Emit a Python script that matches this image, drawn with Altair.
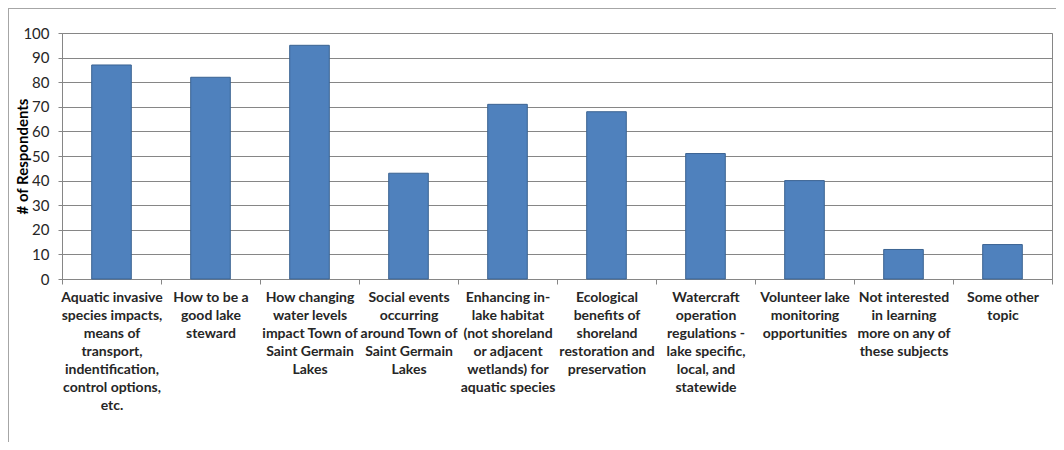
import altair as alt
import pandas as pd

topics = [
    "Aquatic invasive|species impacts,|means of|transport,|indentification,|control options,|etc.",
    "How to be a|good lake|steward",
    "How changing|water levels|impact Town of|Saint Germain|Lakes",
    "Social events|occurring|around Town of|Saint Germain|Lakes",
    "Enhancing in-|lake habitat|(not shoreland|or adjacent|wetlands) for|aquatic species",
    "Ecological|benefits of|shoreland|restoration and|preservation",
    "Watercraft|operation|regulations -|lake specific,|local, and|statewide",
    "Volunteer lake|monitoring|opportunities",
    "Not interested|in learning|more on any of|these subjects",
    "Some other|topic",
]
respondents = [87, 82, 95, 43, 71, 68, 51, 40, 12, 14]
y_ticks = [0, 10, 20, 30, 40, 50, 60, 70, 80, 90, 100]

df = pd.DataFrame({"topic": topics, "n": respondents})

GRAY = "#868686"
FONT = "Lato"

x = alt.X(
    "topic:N",
    sort=topics,
    title=None,
    scale=alt.Scale(paddingInner=0, paddingOuter=0),
    axis=alt.Axis(
        labelExpr="isString(datum.value) ? split(datum.value, '|') : ''",
        labelAngle=0,
        labelAlign="center",
        labelBaseline="top",
        labelFont=FONT,
        labelFontWeight="bold",
        labelFontSize=14,
        labelLineHeight=18,
        labelColor="#262626",
        labelPadding=6,
        labelOverlap=False,
        labelLimit=200,
        tickBand="extent",
        tickSize=5,
        tickColor=GRAY,
        domainColor=GRAY,
        grid=False,
    ),
)

y = alt.Y(
    "n:Q",
    scale=alt.Scale(domain=[0, 100], nice=False),
    axis=alt.Axis(
        values=y_ticks,
        title="# of Respondents",
        titleFont=FONT,
        titleFontWeight="bold",
        titleFontSize=15,
        titleColor="#000000",
        titleX=-40,
        titleY=123,
        titleBaseline="middle",
        labelFont=FONT,
        labelFontSize=15,
        labelColor="#262626",
        labelPadding=9,
        tickSize=4,
        tickColor=GRAY,
        domainColor=GRAY,
        gridColor=GRAY,
        grid=True,
    ),
)

bars = alt.Chart(df).mark_bar(
    width=alt.RelativeBandSize(0.4),
    color="#4F81BD",
    stroke="#3B6392",
    strokeWidth=1,
).encode(x=x, y=y)

frame_top = alt.Chart(df).mark_rule(color="#A6A6A6", strokeWidth=1).encode(
    x=alt.value(-53.5), x2=alt.value(994), y=alt.value(-24.5)
)
frame_left = alt.Chart(df).mark_rule(color="#A6A6A6", strokeWidth=1).encode(
    x=alt.value(-53.5), y=alt.value(-24.5), y2=alt.value(409)
)

chart = alt.layer(bars, frame_top, frame_left).properties(
    width=990,
    height=246,
    autosize=alt.AutoSizeParams(type="none"),
    padding={"left": 54, "top": 25, "right": 4, "bottom": 163},
    background="white",
).configure_view(stroke=GRAY, strokeWidth=1)

chart.save("out.html", embed_options={"renderer": "svg", "actions": False})
